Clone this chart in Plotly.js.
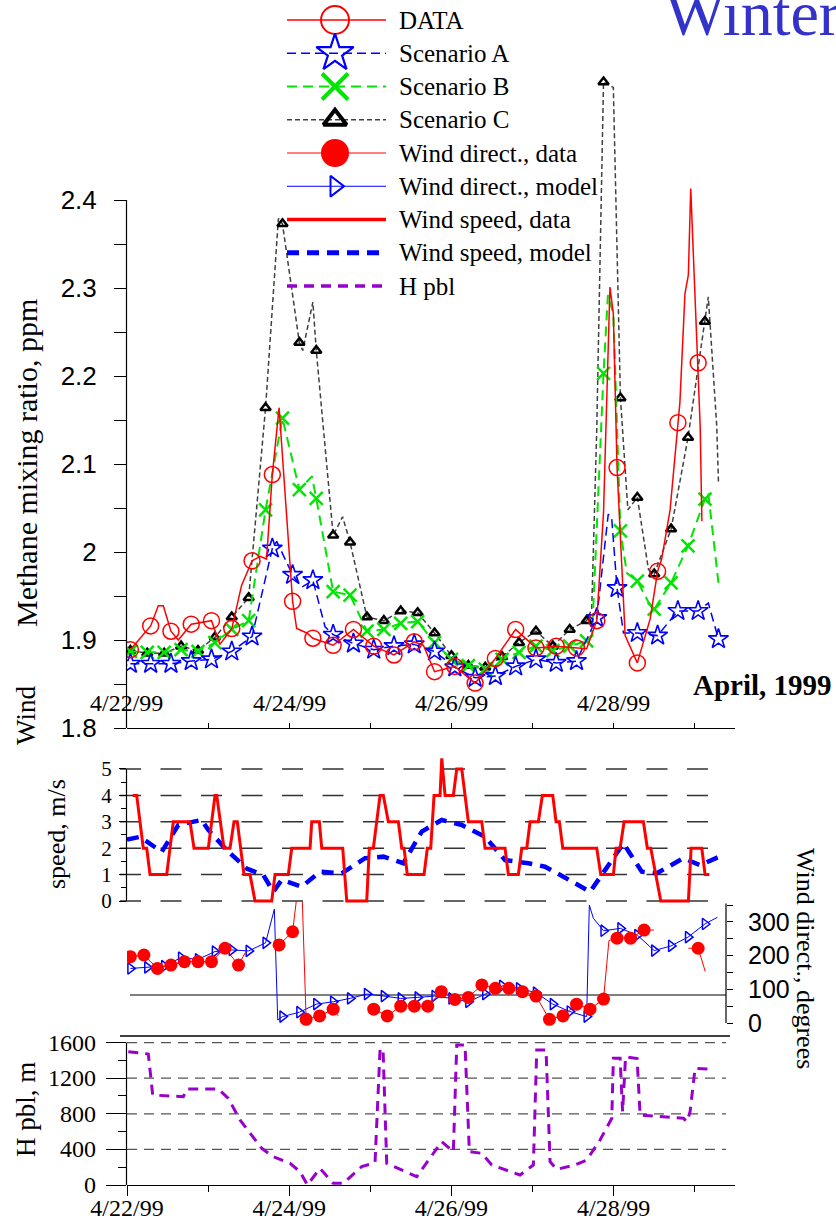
<!DOCTYPE html>
<html>
<head>
<meta charset="utf-8">
<script src="https://cdn.plot.ly/plotly-3.0.1.min.js"></script>
<style>
  html, body { margin: 0; padding: 0; background: #ffffff; }
  #chart { width: 836px; height: 1222px; }
</style>
</head>
<body>
<div id="chart"></div>
<script>
// ---------------------------------------------------------------
// Time is in hours since 4/22/99 00:00.
// ---------------------------------------------------------------
const dateTickHours = [0, 48, 96, 144];
const dateTickLabels = ['4/22/99', '4/24/99', '4/26/99', '4/28/99'];
const dayTickHours = [0, 24, 48, 72, 96, 120, 144, 168];
const minorDayHours = [24, 72, 120, 168];

// Methane mixing ratio, ppm -- measured
const obsHour = [1, 7, 9.26, 10.74, 13, 15.18, 19, 25, 27.5, 31, 33.9, 37, 39.4, 41.3, 43, 45, 49, 50.2, 53.2, 55,
  61, 67, 73, 79, 85, 87.7, 91, 97, 103, 109, 115, 121, 127, 133, 136, 139, 141, 142.9, 143.9, 145,
  147.4, 151, 154.8, 157, 158.2, 160.7, 163, 163.6, 165.1, 166.1, 166.8, 169, 169.6, 170.1];
const obsPpm = [1.889, 1.916, 1.939, 1.939, 1.910, 1.900, 1.918, 1.922, 1.895, 1.913, 1.962, 1.990, 1.995, 1.992, 2.088, 2.164, 1.944, 1.913, 1.908, 1.902,
  1.894, 1.912, 1.893, 1.883, 1.898, 1.894, 1.864, 1.870, 1.851, 1.879, 1.912, 1.891, 1.893, 1.891, 1.890, 1.922, 2.045, 2.301, 2.271, 2.096,
  1.905, 1.874, 1.924, 1.978, 1.992, 2.048, 2.147, 2.170, 2.294, 2.315, 2.413, 2.215, 2.143, 2.035];

// Scenario A, ppm
const scenAHour = [1, 7, 13, 19, 25, 31, 37, 43, 44.3, 49, 51.7, 55, 58.6, 61, 67, 73, 79, 85, 91, 97,
  103, 109, 115, 121, 127, 133, 139, 142.4, 143.4, 145, 146.9, 151, 157, 163, 169, 172, 175];
const scenAPpm = [1.873, 1.873, 1.873, 1.876, 1.878, 1.887, 1.904, 2.004, 2.012, 1.974, 1.960, 1.968, 1.915, 1.906, 1.896, 1.889, 1.893, 1.895, 1.887, 1.869,
  1.857, 1.859, 1.870, 1.878, 1.874, 1.876, 1.925, 2.043, 2.039, 1.959, 1.908, 1.908, 1.905, 1.933, 1.933, 1.942, 1.901];

// Scenario B, ppm
const scenBHour = [1, 6, 11, 16, 21, 26, 31, 36, 41, 46, 51, 54.7, 56, 61, 66, 71, 76, 81, 86, 91,
  96, 101, 106, 111, 116, 121, 126, 131, 136, 137.6, 141, 142.3, 143.9, 146, 147.9, 151, 154.3, 156, 161, 166,
  171, 172, 175];
const scenBPpm = [1.887, 1.886, 1.886, 1.889, 1.887, 1.897, 1.912, 1.922, 2.048, 2.152, 2.071, 2.086, 2.061, 1.955, 1.951, 1.910, 1.912, 1.919, 1.921, 1.897,
  1.878, 1.871, 1.867, 1.878, 1.886, 1.893, 1.888, 1.893, 1.899, 1.905, 2.203, 2.292, 2.271, 2.024, 1.976, 1.967, 1.943, 1.935, 1.965, 2.007,
  2.060, 2.067, 1.965];

// Scenario C, ppm
const scenCHour = [1, 6, 11, 16, 21, 26, 31, 36, 41, 44.8, 46, 51, 52, 55, 56, 61, 63.8, 66, 71, 76,
  81, 86, 91, 96, 101, 106, 111, 116, 121, 126, 131, 136, 137.5, 139, 141, 143.9, 146, 148.2, 151, 154.3,
  156, 161, 166, 171, 172, 174.5, 175];
const scenCPpm = [1.888, 1.885, 1.885, 1.893, 1.888, 1.903, 1.926, 1.948, 2.164, 2.379, 2.373, 2.238, 2.229, 2.284, 2.229, 2.019, 2.040, 2.011, 1.926, 1.922,
  1.933, 1.931, 1.908, 1.882, 1.871, 1.869, 1.881, 1.897, 1.910, 1.893, 1.912, 1.922, 1.935, 2.140, 2.534, 2.528, 2.175, 2.048, 2.062, 1.980,
  1.975, 2.026, 2.130, 2.262, 2.290, 2.143, 2.080];

// Wind speed, m/s
const windObsHour = [1.69, 2.87, 4.82, 5.83, 6.81, 11.75, 13.70, 18.64, 19.83, 24.06, 26.04, 26.55, 28.70, 30.48, 31.66, 32.64, 34.62, 36.40, 37.88, 42.82,
  43.80, 47.73, 48.74, 54.16, 54.66, 56.91, 57.62, 63.83, 65.02, 70.93, 71.70, 72.89, 74.87, 75.85, 77.33, 80.29, 81.29, 81.97, 82.95, 87.89,
  88.87, 89.87, 90.85, 92.63, 93.13, 94.11, 96.56, 97.57, 99.05, 101.0, 104.97, 105.94, 111.86, 112.84, 115.80, 116.80, 118.29, 119.26, 121.72, 122.90,
  125.98, 126.95, 127.93, 128.94, 139.0, 140.18, 143.91, 144.71, 145.90, 147.08, 152.79, 153.97, 154.98, 157.94, 166.11, 166.91, 170.07, 171.05, 172.32];
const windObsMs = [4, 4, 2, 2, 1, 1, 3, 3, 2, 2, 4, 4, 2, 2, 3, 3, 1, 1, 0, 0,
  1, 1, 2, 2, 3, 3, 2, 2, 0, 0, 2, 2, 4, 4, 3, 3, 2, 2, 1, 1,
  2, 2, 4, 4, 5.4, 4, 4, 5, 5, 3, 3, 2, 2, 1, 1, 2, 2, 3, 3, 4,
  4, 3, 3, 2, 2, 1, 1, 2, 2, 3, 3, 2, 2, 0, 0, 2, 2, 1, 1];
const windModelHour = [0, 3.85, 10.27, 15.18, 22.11, 24.06, 29.50, 35.42, 40.34, 43.30, 45.78, 51.70, 57.11, 63.54, 70.43, 75.85, 81.77, 87.21, 93.13, 99.05,
  105.94, 111.86, 118.76, 123.70, 129.11, 137.02, 141.45, 146.87, 152.32, 156.75, 164.63, 169.57, 175.28];
const windModelMs = [2.33, 2.43, 1.86, 2.88, 3.07, 2.69, 1.93, 1.23, 0.98, 0.35, 0.80, 0.54, 1.11, 1.05, 1.62, 1.68, 1.43, 2.63, 3.07, 2.88,
  2.43, 1.55, 1.43, 1.30, 0.92, 0.35, 1.17, 2.18, 1.11, 1.05, 1.62, 1.36, 1.68];

// Wind direction, degrees (null = no observation)
const windDirObsHour = [1, 5, 9, 13, 17, 21, 25, 29, 33, 35, null, 45, 49, 51.5, 53, 57, 61, 62.5, null, 71.4,
  73, 77, 81, 85, 89, 93, 97, 101, 105, 109, 113, 117, 121, 125, 129, 133, 137, 141, 142.6, 145,
  149, 153, 155.9, null, 166.1, 169, 171.1];
const windDirObsDeg = [197, 202, 162, 172, 182, 182, 182, 222, 172, 209, null, 232, 271, 480, 11, 21, 41, 21, null, 44,
  41, 21, 50, 50, 50, 93, 70, 76, 113, 103, 103, 93, 80, 11, 21, 56, 41, 71, 245, 252,
  252, 276, 276, null, 222, 222, 153];
const windDirModelHour = [1, 6, 11, 16, 21, 26, 31, 36, 41, 43.6, 44.6, 46, 51, 56, 61, 66, 71, 76, 81, 86,
  91, 96, 101, 106, 111, 116, 121, 126, 131, 136, 136.8, 138, 141, 146, 151, 156, 161, 166, 171, 174.7];
const windDirModelDeg = [162, 165, 169, 194, 189, 212, 217, 214, 238, 338, 9, 19, 32, 56, 63, 73, 86, 80, 73, 76,
  80, 73, 63, 86, 110, 103, 90, 56, 34, 19, 350, 311, 274, 281, 261, 215, 229, 255, 294, 314];
const windDirRefDeg = 83;

// Boundary-layer height, m
const hpblHour = [0.38, 6.30, 7.61, 16.66, 17.67, 27.02, 29.98, 33.44, 39.86, 43.29, 48.24, 51.20, 53.36, 57.11, 61.05, 64.01, 69.45, 73.39, 74.87, 75.76,
  76.85, 85.73, 93.13, 96.56, 97.57, 100.02, 101.30, 104.97, 107.93, 116.30, 120.24, 121.24, 123.99, 125.18, 127.16, 132.58, 136.04, 139.97, 143.44, 143.91,
  145.90, 146.64, 147.52, 150.93, 151.82, 164.63, 165.72, 166.61, 168.09, 173.50];
const hpblM = [1498, 1472, 1011, 992, 1079, 1079, 974, 730, 412, 318, 243, 150, 0, 187, 19, 19, 206, 251, 1517, 1530,
  243, 94, 487, 374, 1573, 1573, 374, 356, 225, 112, 225, 1517, 1517, 262, 176, 225, 281, 506, 749, 1424,
  1424, 824, 1440, 1420, 787, 749, 712, 824, 1311, 1300];

// Tick values
const ppmTicks = [1.8, 1.9, 2.0, 2.1, 2.2, 2.3, 2.4];
const ppmTickText = ['1.8', '1.9', '2', '2.1', '2.2', '2.3', '2.4'];
const ppmMinor = [1.85, 1.95, 2.05, 2.15, 2.25, 2.35];
const speedTicks = [0, 1, 2, 3, 4, 5];
const speedMinor = [0.5, 1.5, 2.5, 3.5, 4.5];
const dirTicks = [0, 100, 200, 300];
const dirMinor = [50, 150, 250, 350];
const hpblTicks = [0, 400, 800, 1200, 1600];
const hpblMinor = [200, 600, 1000, 1400];

// ---------------------------------------------------------------
const W = 836, H = 1222;
const fx = p => p / W;          // pixel column -> paper x
const fy = p => 1 - p / H;      // pixel row -> paper y
const SERIF = '"Liberation Serif", "Times New Roman", serif';
const SANS = '"Liberation Sans", Arial, sans-serif';
const X_END = 179.9;

// markers are drawn on the regular sampling grid of each series
function sampled(hours, vals, step) {
  const xs = [], ys = [];
  hours.forEach((h, i) => {
    if (h !== null && Number.isInteger(h) && (h - 1) % step === 0) { xs.push(h); ys.push(vals[i]); }
  });
  return { xs, ys };
}

const RED = '#ff0000', BLUE = '#0000ff', GREEN = '#00e600', GREY = '#404040', PURPLE = '#9900cc';

const style = {
  obs:   { line: { color: RED, width: 1.5 }, marker: { symbol: 'circle-open', color: RED, size: 16, line: { width: 1.5, color: RED } } },
  scenA: { line: { color: BLUE, width: 1.5, dash: '9px,5px' }, marker: { symbol: 'star-open', color: BLUE, size: 15, line: { width: 1.6, color: BLUE } } },
  scenB: { line: { color: GREEN, width: 2, dash: '10px,6px' }, marker: { symbol: 'x-thin-open', color: GREEN, size: 13, line: { width: 2.5, color: GREEN } } },
  scenC: { line: { color: GREY, width: 1.5, dash: '5px,3px' }, marker: { symbol: 'triangle-up-open', color: '#000000', size: 9, line: { width: 2.5, color: '#000000' } } },
  dirObs:   { line: { color: RED, width: 1 }, marker: { symbol: 'circle', color: RED, size: 13, line: { width: 0 } } },
  dirModel: { line: { color: BLUE, width: 1 }, marker: { symbol: 'triangle-right-open', color: BLUE, size: 10, line: { width: 1.5, color: BLUE } } },
  spdObs:   { line: { color: RED, width: 3 } },
  spdModel: { line: { color: BLUE, width: 4.5, dash: '12px,8px' } },
  hpbl:     { line: { color: PURPLE, width: 3, dash: '10px,7px' } }
};

const traces = [];
function addSeries(hours, vals, st, xa, ya, step) {
  traces.push({ type: 'scatter', mode: 'lines', x: hours, y: vals, xaxis: xa, yaxis: ya,
    line: st.line, connectgaps: false, hoverinfo: 'skip', showlegend: false });
  if (st.marker) {
    const s = sampled(hours, vals, step);
    traces.push({ type: 'scatter', mode: 'markers', x: s.xs, y: s.ys, xaxis: xa, yaxis: ya,
      marker: st.marker, hoverinfo: 'skip', showlegend: false });
  }
}

// methane panel
addSeries(scenCHour, scenCPpm, style.scenC, 'x', 'y', 5);
addSeries(scenBHour, scenBPpm, style.scenB, 'x', 'y', 5);
addSeries(scenAHour, scenAPpm, style.scenA, 'x', 'y', 6);
addSeries(obsHour, obsPpm, style.obs, 'x', 'y', 6);
// wind speed panel
addSeries(windModelHour, windModelMs, style.spdModel, 'x2', 'y2');
addSeries(windObsHour, windObsMs, style.spdObs, 'x2', 'y2');
// wind direction panel
addSeries(windDirModelHour, windDirModelDeg, style.dirModel, 'x3', 'y3', 5);
addSeries(windDirObsHour, windDirObsDeg, style.dirObs, 'x3', 'y3', 4);
// boundary layer panel
addSeries(hpblHour, hpblM, style.hpbl, 'x4', 'y4');

// legend block (drawn on a pixel-scaled overlay)
const legendItems = [
  ['DATA', style.obs], ['Scenario A', style.scenA], ['Scenario B', style.scenB], ['Scenario C', style.scenC],
  ['Wind direct., data', style.dirObs], ['Wind direct., model', style.dirModel],
  ['Wind speed, data', style.spdObs], ['Wind speed, model', style.spdModel], ['H pbl', style.hpbl]
];
const LEG_TOP = 20, LEG_ROW = 33.25, LEG_X0 = 287, LEG_X1 = 386, LEG_SYM = 335, LEG_TXT = 397;
const annotations = [];
legendItems.forEach(([label, st], r) => {
  const yy = LEG_TOP + r * LEG_ROW;
  const lw = Object.assign({}, st.line);
  if (r === 6) lw.width = 3.5;
  if (r === 7) lw.width = 5;
  if (r === 8) lw.width = 3.5;
  traces.push({ type: 'scatter', mode: 'lines', x: [LEG_X0, LEG_X1], y: [yy, yy], xaxis: 'x5', yaxis: 'y5',
    line: lw, hoverinfo: 'skip', showlegend: false });
  if (st.marker) {
    const mk = JSON.parse(JSON.stringify(st.marker));
    mk.size = { 'circle-open': 28, 'star-open': 28, 'x-thin-open': 26, 'triangle-up-open': 20, 'circle': 28, 'triangle-right-open': 18 }[mk.symbol];
    if (mk.symbol === 'x-thin-open') mk.line.width = 4;
    if (mk.symbol === 'triangle-up-open') mk.line.width = 4;
    if (mk.symbol === 'star-open') mk.line.width = 2.2;
    if (mk.symbol === 'circle-open') mk.line.width = 2;
    if (mk.symbol === 'triangle-right-open') mk.line.width = 2;
    traces.push({ type: 'scatter', mode: 'markers', x: [LEG_SYM], y: [yy], xaxis: 'x5', yaxis: 'y5',
      marker: mk, hoverinfo: 'skip', showlegend: false });
  }
  annotations.push({ xref: 'x5', yref: 'y5', x: LEG_TXT, y: yy, text: label, showarrow: false,
    xanchor: 'left', yanchor: 'middle', font: { family: SERIF, size: 25, color: '#000' } });
});

// date labels sitting above the methane time axis
dateTickHours.forEach((h, i) => {
  annotations.push({ xref: 'x', yref: 'y', x: h, y: 1.8284, text: dateTickLabels[i], showarrow: false,
    xanchor: 'center', yanchor: 'middle', font: { family: SERIF, size: 24, color: '#000' } });
});

// boundary-layer tick labels, right-aligned left of the tick marks
hpblTicks.forEach(v => {
  annotations.push({ xref: 'paper', yref: 'y4', x: fx(98), y: v, text: String(v), showarrow: false,
    xanchor: 'right', yanchor: 'middle', font: { family: SERIF, size: 24, color: '#000' } });
});

// panel titles and captions
const cap = (x, y, text, size, angle, extra) => Object.assign({
  xref: 'x5', yref: 'y5', x, y, text, showarrow: false, textangle: angle,
  xanchor: 'center', yanchor: 'middle', font: { family: SERIF, size, color: '#000' }
}, extra || {});
annotations.push(cap(26, 463, 'Methane mixing ratio, ppm', 30, -90));
annotations.push(cap(26, 716, 'Wind', 27, -90));
annotations.push(cap(56, 834, 'speed, m/s', 26, -90));
annotations.push(cap(26, 1110, 'H pbl, m', 27, -90));
annotations.push(cap(806, 958, 'Wind direct., degrees', 26, 90));
annotations.push(cap(834, 685, '<b>April, 1999</b>', 29, 0, { xanchor: 'right' }));
annotations.push(cap(663, 13, 'Winter', 64, 0, { xanchor: 'left', font: { family: SERIF, size: 64, color: '#3333cc' } }));

// axis lines, grids and frame pieces
const shapes = [];
const vline = (xpx, yref, y0, y1, w) => ({ type: 'line', xref: 'paper', yref, x0: fx(xpx), x1: fx(xpx), y0, y1,
  line: { color: '#000', width: w || 1.2 } });
shapes.push(vline(126.5, 'y', 1.8, 2.4));
shapes.push(vline(126.5, 'y2', 0, 5));
shapes.push(vline(726, 'y3', 0, 355));
shapes.push(vline(126.5, 'y4', 0, 1600));
speedTicks.forEach(v => shapes.push({ type: 'line', layer: 'below', xref: 'paper', yref: 'y2', x0: fx(120), x1: fx(715), y0: v, y1: v,
  line: { color: '#333', width: 1.5, dash: '21px,19.5px' } }));
hpblTicks.slice(1).forEach(v => shapes.push({ type: 'line', layer: 'below', xref: 'paper', yref: 'y4', x0: fx(127), x1: fx(726), y0: v, y1: v,
  line: { color: '#555', width: 1.3, dash: '10px,7px' } }));
shapes.push({ type: 'line', layer: 'below', xref: 'paper', yref: 'y3', x0: fx(130), x1: fx(726), y0: windDirRefDeg, y1: windDirRefDeg,
  line: { color: '#555', width: 1.5 } });
shapes.push({ type: 'line', xref: 'paper', yref: 'paper', x0: fx(120), x1: fx(730), y0: fy(1036), y1: fy(1036),
  line: { color: '#000', width: 1.3 } });

const XD = [fx(127), fx(735)];
const hidden = { visible: false, fixedrange: true };
const layout = {
  width: W, height: H,
  margin: { l: 0, r: 0, t: 0, b: 0, pad: 0 },
  paper_bgcolor: '#ffffff', plot_bgcolor: 'rgba(0,0,0,0)',
  showlegend: false,
  font: { family: SERIF, color: '#000' },
  xaxis: { domain: XD, range: [0, X_END], anchor: 'y', showline: true, linecolor: '#000', linewidth: 1.2,
    ticks: 'inside', ticklen: 5, tickcolor: '#000', tickvals: dayTickHours, showticklabels: false,
    showgrid: false, zeroline: false, fixedrange: true },
  yaxis: { domain: [fy(728), fy(60)], range: [1.8, 2.5591], anchor: 'x', showline: false, showgrid: false, zeroline: false,
    tickvals: ppmTicks, ticktext: ppmTickText, ticks: 'outside', ticklen: 12, tickcolor: '#000', ticklabelstandoff: 12,
    tickfont: { family: SANS, size: 26, color: '#000' },
    minor: { tickvals: ppmMinor, ticks: 'outside', ticklen: 12, tickcolor: '#000' }, fixedrange: true },
  xaxis2: Object.assign({ domain: XD, range: [0, X_END], anchor: 'y2' }, hidden),
  yaxis2: { domain: [fy(905), fy(740)], range: [-0.1515, 6.098], anchor: 'x2', showline: false, showgrid: false, zeroline: false,
    tickvals: speedTicks, ticks: 'outside', ticklen: 7, tickcolor: '#000', ticklabelstandoff: 3,
    tickfont: { family: SERIF, size: 21, color: '#000' },
    minor: { tickvals: speedMinor, ticks: 'outside', ticklen: 5, tickcolor: '#000' }, fixedrange: true },
  xaxis3: Object.assign({ domain: XD, range: [0, X_END], anchor: 'y3' }, hidden),
  yaxis3: { domain: [fy(1036), fy(901)], range: [-38.6, 362.3], anchor: 'free', position: fx(726), side: 'right',
    showline: false, showgrid: false, zeroline: false,
    tickvals: dirTicks, ticks: 'outside', ticklen: 6, tickcolor: '#000', ticklabelstandoff: 10,
    tickfont: { family: SANS, size: 25, color: '#000' },
    minor: { tickvals: dirMinor, ticks: 'outside', ticklen: 6, tickcolor: '#000' }, fixedrange: true },
  xaxis4: { domain: XD, range: [0, X_END], anchor: 'y4', showline: true, linecolor: '#000', linewidth: 1.2,
    ticks: 'outside', ticklen: 10, tickcolor: '#000', tickvals: dateTickHours, ticktext: dateTickLabels,
    ticklabelstandoff: -9,
    tickfont: { family: SERIF, size: 24, color: '#000' },
    minor: { tickvals: minorDayHours, ticks: 'outside', ticklen: 6, tickcolor: '#000' },
    showgrid: false, zeroline: false, fixedrange: true },
  yaxis4: { domain: [fy(1185), fy(1036)], range: [0, 1674], anchor: 'x4', showline: false, showgrid: false, zeroline: false,
    tickvals: hpblTicks, ticks: 'outside', ticklen: 20, tickcolor: '#000', showticklabels: false,
    minor: { tickvals: hpblMinor, ticks: 'outside', ticklen: 8, tickcolor: '#000' }, fixedrange: true },
  xaxis5: Object.assign({ domain: [0, 1], range: [0, W], anchor: 'y5' }, hidden),
  yaxis5: Object.assign({ domain: [0, 1], range: [H, 0], anchor: 'x5' }, hidden),
  shapes, annotations
};

Plotly.newPlot('chart', traces, layout, { staticPlot: true, displayModeBar: false });
</script>
</body>
</html>
